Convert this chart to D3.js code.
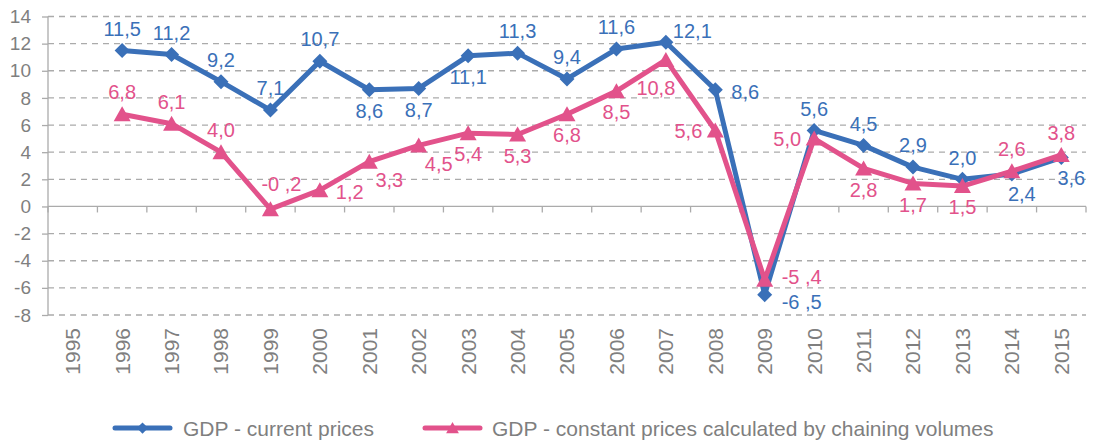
<!DOCTYPE html>
<html><head><meta charset="utf-8">
<script src="https://cdn.jsdelivr.net/npm/d3@7"></script>
<style>
html,body{margin:0;padding:0;background:#fff;}
svg{display:block;font-family:"Liberation Sans",Arial,sans-serif;}
</style></head>
<body>
<svg id="chart" width="1093" height="441"></svg>
<script>
const years = ["1995","1996","1997","1998","1999","2000","2001","2002","2003","2004","2005","2006","2007","2008","2009","2010","2011","2012","2013","2014","2015"];
const currentPrices = [null,11.5,11.2,9.2,7.1,10.7,8.6,8.7,11.1,11.3,9.4,11.6,12.1,8.6,-6.5,5.6,4.5,2.9,2.0,2.4,3.6];
const constantPrices = [null,6.8,6.1,4.0,-0.2,1.2,3.3,4.5,5.4,5.3,6.8,8.5,10.8,5.6,-5.4,5.0,2.8,1.7,1.5,2.6,3.8];
const currentLabels = [null,"11,5","11,2","9,2","7,1","10,7","8,6","8,7","11,1","11,3","9,4","11,6","12,1","8,6","-6 ,5","5,6","4,5","2,9","2,0","2,4","3,6"];
const constantLabels = [null,"6,8","6,1","4,0","-0 ,2","1,2","3,3","4,5","5,4","5,3","6,8","8,5","10,8","5,6","-5 ,4","5,0","2,8","1,7","1,5","2,6","3,8"];
const yTicks = [-8,-6,-4,-2,0,2,4,6,8,10,12,14];
const seriesNames = ["GDP - current prices","GDP - constant prices calculated by chaining volumes"];
// label placement codes (style)
const currentPlace = [null,"a","a","a","a","a","b","b","b","a","a","a","ar","r","rd","a","a","a","a","bR","bR"];
const constantPlace = [null,"a","a","a","aR","r","br","br","b","b","b","b","bl","l","ru","l","b","b","b","a","a"];

const BLUE = "#3A70B8", PINK = "#E2528B", GRID = "#ababab", TXT = "#7f7f7f";
const svg = d3.select("#chart");
const x = d3.scaleBand().domain(years).range([48,1086]);
const y = d3.scaleLinear().domain([-8,14]).range([315,16.5]);
const cx = d => x(d) + x.bandwidth()/2;

// gridlines
svg.append("g").selectAll("line").data(yTicks.filter(t=>t!==0)).join("line")
  .attr("x1",48).attr("x2",1086).attr("y1",d=>y(d)).attr("y2",d=>y(d))
  .attr("stroke",GRID).attr("stroke-width",1.3).attr("stroke-dasharray","6,5");

// y axis
const yAxis = d3.axisLeft(y).tickValues(yTicks).tickSize(6).tickFormat(d=>d);
const gy = svg.append("g").attr("transform","translate(48,0)").call(yAxis);
gy.select(".domain").attr("stroke",GRID).attr("stroke-width",1.3).attr("d","M0,"+y(14)+"V"+y(-8));
gy.selectAll(".tick line").attr("stroke",GRID).attr("stroke-width",1.3);
gy.selectAll(".tick text").attr("fill",TXT).attr("font-size",19).attr("x",-17)
  .attr("font-family","'Liberation Sans',Arial,sans-serif");

// zero axis line with category boundary ticks
svg.append("line").attr("x1",48).attr("x2",1086).attr("y1",y(0)).attr("y2",y(0))
  .attr("stroke",GRID).attr("stroke-width",1.3);
const bounds = years.map(d=>x(d)).concat([x(years[years.length-1])+x.bandwidth()]);
svg.append("g").selectAll("line").data(bounds).join("line")
  .attr("x1",d=>d).attr("x2",d=>d).attr("y1",y(0)).attr("y2",y(0)+6)
  .attr("stroke",GRID).attr("stroke-width",1.3);

// x labels rotated
svg.append("g").selectAll("text").data(years).join("text")
  .attr("transform",d=>`translate(${cx(d)},328) rotate(-90)`)
  .attr("text-anchor","end").attr("dy","0.35em")
  .attr("font-size",21).attr("fill",TXT).text(d=>d);

const diamond = "M0,-7.5L7.5,0L0,7.5L-7.5,0Z";
const triangle = "M0,-8L8.5,7L-8.5,7Z";

function drawSeries(vals, labels, places, color, marker){
  const pts = years.map((d,i)=>({year:d,v:vals[i],lab:labels[i],p:places[i]})).filter(d=>d.v!==null);
  const line = d3.line().x(d=>cx(d.year)).y(d=>y(d.v));
  svg.append("path").datum(pts).attr("d",line).attr("fill","none")
    .attr("stroke",color).attr("stroke-width",5).attr("stroke-linejoin","round");
  svg.append("g").selectAll("path").data(pts).join("path")
    .attr("d",marker).attr("fill",color)
    .attr("transform",d=>`translate(${cx(d.year)},${y(d.v)})`);
  const off = {a:[0,-22,"middle"],aR:[11,-25,"middle"],b:[0,21,"middle"],bR:[10,20,"middle"],
               r:[16,2,"start"],ru:[17,-3,"start"],rd:[17,7,"start"],l:[-13,0,"end"],
               ar:[7,-11,"start"],br:[20,18,"middle"],bl:[-10,28,"middle"]};
  svg.append("g").selectAll("text").data(pts).join("text")
    .attr("x",d=>cx(d.year)+off[d.p][0])
    .attr("y",d=>y(d.v)+off[d.p][1])
    .attr("dy","0.36em").attr("text-anchor",d=>off[d.p][2])
    .attr("font-size",20).attr("fill",color).text(d=>d.lab);
}
drawSeries(currentPrices,currentLabels,currentPlace,BLUE,diamond);
drawSeries(constantPrices,constantLabels,constantPlace,PINK,triangle);

// legend
const leg = [{name:seriesNames[0],color:BLUE,m:diamond,x0:115,x1:170,tx:183},
             {name:seriesNames[1],color:PINK,m:triangle,x0:425,x1:480,tx:492}];
const lg = svg.append("g");
leg.forEach(l=>{
  lg.append("line").attr("x1",l.x0).attr("x2",l.x1).attr("y1",428).attr("y2",428)
    .attr("stroke",l.color).attr("stroke-width",5).attr("stroke-linecap","round");
  lg.append("path").attr("d",l.m).attr("fill",l.color)
    .attr("transform",`translate(${(l.x0+l.x1)/2},428) scale(0.75)`);
  lg.append("text").attr("x",l.tx).attr("y",428).attr("dy","0.36em")
    .attr("font-size",21).attr("fill",TXT).text(l.name);
});
</script>
</body></html>
